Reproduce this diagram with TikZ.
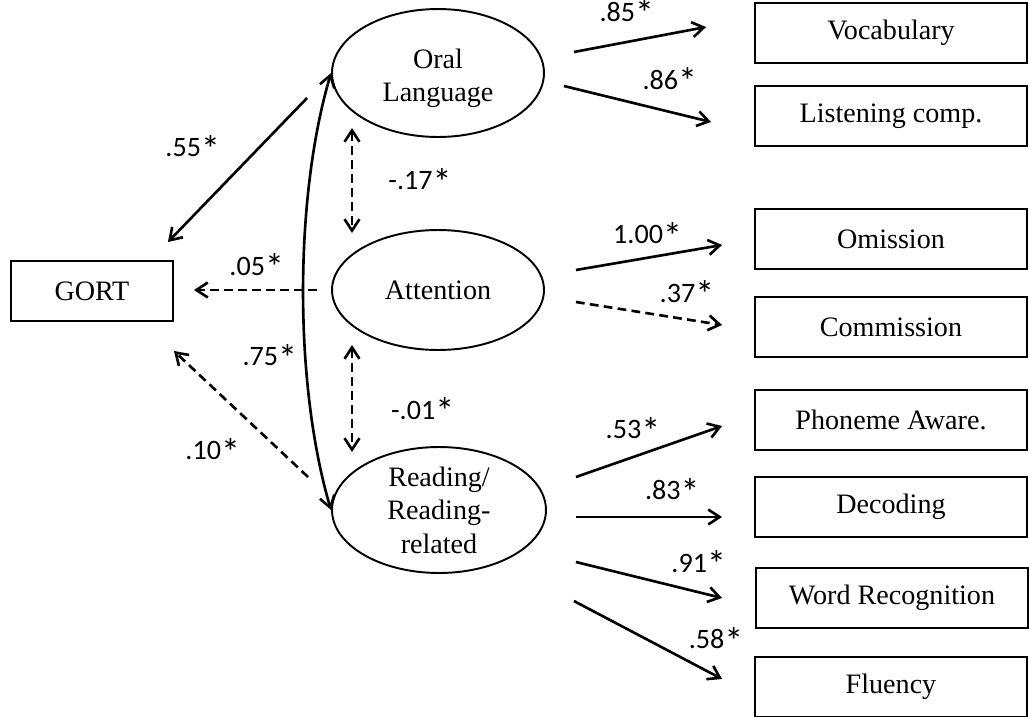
\documentclass[tikz,border=0pt]{standalone}
\usepackage{fontspec}
\setmainfont{Liberation Serif}
\newfontfamily\numfont{Carlito}
\usetikzlibrary{shapes.geometric, arrows.meta, positioning, calc}

\newcommand{\sigmark}{\smash{\raisebox{-0.2em}{\scalebox{1.35}{*}}}}

\begin{document}
\begin{tikzpicture}[x=0.02cm, y=-0.02cm,
            obs/.style={rectangle, draw, line width=1.1pt, inner sep=0pt,
                    minimum width=5.44cm, minimum height=1.2cm,
                    font=\fontsize{16}{19}\selectfont},
            lat/.style={ellipse, draw, line width=1.1pt, inner sep=0pt,
                    align=center, font=\fontsize{16}{19}\selectfont},
            lbl/.style={inner sep=0pt, font=\numfont\fontsize{16}{19}\selectfont},
            load/.style={draw, line width=1.5pt, -{Straight Barb[length=6.5pt,width=8.5pt]}},
            dload/.style={load, dash pattern=on 5pt off 3pt},
            cov/.style={draw, line width=1.5pt,
                    {Straight Barb[length=6.5pt,width=8.5pt]}-{Straight Barb[length=6.5pt,width=8.5pt]}},
            dcov/.style={cov, dash pattern=on 5pt off 3pt}
            ]
            \useasboundingbox (0,0) rectangle (1029,717);

            %% ---- Outcome ----
            \node[obs, minimum width=3.24cm] (gort) at (92,291) {GORT};

            %% ---- Latent factors ----
            \node[lat, minimum width=4.24cm, minimum height=2.56cm] (oral) at (438,73)  {\rule{0pt}{17pt}Oral\\Language};
            \node[lat, minimum width=4.24cm, minimum height=2.4cm]  (attn) at (438,290) {Attention};
            \node[lat, minimum width=4.28cm, minimum height=2.52cm] (read) at (439,510) {Reading/\\Reading-\\related};

            %% ---- Indicators ----
            \node[obs] (voc) at (891,33)  {Vocabulary};
            \node[obs] (lis) at (891,116) {Listening comp.};
            \node[obs] (omi) at (891,239) {Omission};
            \node[obs] (com) at (891,327) {Commission};
            \node[obs] (pho) at (891,420) {Phoneme Aware.};
            \node[obs] (dec) at (891,507) {Decoding};
            \node[obs] (wrd) at (892,598) {Word Recognition};
            \node[obs] (flu) at (891,687) {Fluency};

            %% ---- Loadings ----
            % Oral Language
            \draw[load] ([shift={(29,-21)}]oral.east) -- node[lbl, pos=.4, above=11pt]{.85\sigmark} ([shift={(-48,-6)}]voc.west);
            \draw[load] ([shift={(19,13)}]oral.east) -- node[lbl, pos=.72, above=12pt]{.86\sigmark} ([shift={(-43,6)}]lis.west);
            % Attention
            \draw[load] ([shift={(31,-20)}]attn.east) -- node[lbl, pos=.49, above=7pt]{1.00\sigmark} ([shift={(-32,6)}]omi.west);
            \draw[dload] ([shift={(31,12)}]attn.east) -- node[lbl, pos=.76, above=9pt]{.37\sigmark} ([shift={(-32,-2)}]com.west);
            % Reading/Reading-related
            \draw[load] ([shift={(29,-33)}]read.east) -- node[lbl, pos=.39, above=9.5pt]{.53\sigmark} ([shift={(-32,6)}]pho.west);
            \draw[load] ([shift={(29,7)}]read.east) -- node[lbl, pos=.66, above=9pt]{.83\sigmark} ([shift={(-32,10)}]dec.west);
            \draw[load] ([shift={(29,52)}]read.east) -- node[lbl, pos=.84, above=10.5pt]{.91\sigmark} ([shift={(-33,0)}]wrd.west);
            \draw[load] ([shift={(27,91)}]read.east) -- node[lbl, pos=.96, above=14.5pt]{.58\sigmark} ([shift={(-32,-8)}]flu.west);

            %% ---- Paths to GORT ----
            \draw[load] ([shift={(-24,25)}]oral.west) -- node[lbl, pos=.345, left=21.5pt]{.55\sigmark} ([shift={(-6,-18)}]gort.north east);
            \draw[dload] ([shift={(-14,0)}]attn.west) -- node[lbl, pos=.49, above=7.5pt]{.05\sigmark} ([shift={(20,-1)}]gort.east);
            \draw[dload] ([shift={(-23,-33)}]read.west) -- node[lbl, pos=.21, left=22pt]{.10\sigmark} ([shift={(0,29)}]gort.south east);

            %% ---- Correlations ----
            \draw[cov] (oral.west) .. controls +(-37,125) and +(-37,-125) .. node[lbl, pos=.64, left=4pt]{.75\sigmark} (read.west);
            \draw[dcov] ([shift={(-86,55)}]oral.center) -- node[lbl, pos=.5, right=20pt]{-.17\sigmark} ([shift={(-86,-57)}]attn.center);
            \draw[dcov] ([shift={(-86,55)}]attn.center) -- node[lbl, pos=.61, right=21.5pt]{-.01\sigmark} ([shift={(-87,-58)}]read.center);
        \end{tikzpicture}
\end{document}
